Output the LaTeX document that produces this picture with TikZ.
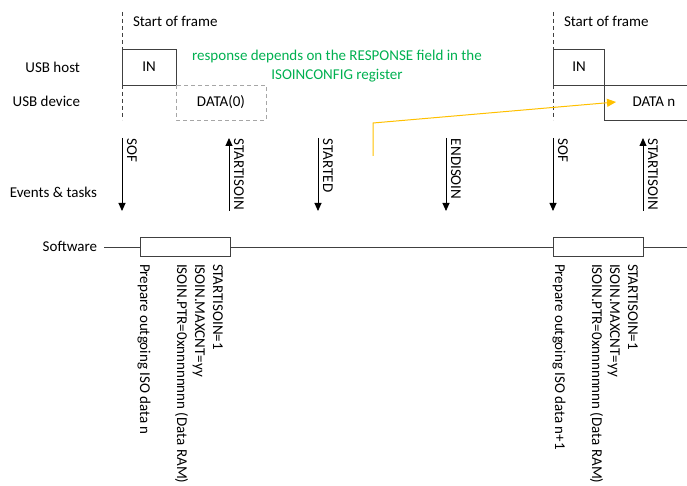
\documentclass[tikz,border=0pt]{standalone}
\usepackage{fontspec}
\setmainfont{Carlito}
\usetikzlibrary{arrows.meta}
\definecolor{linegray}{HTML}{404040}
\definecolor{dashgray}{HTML}{A6A6A6}
\definecolor{notegreen}{HTML}{00B050}
\definecolor{arroworange}{HTML}{FFC000}
\begin{document}
\begin{tikzpicture}[x=1pt,y=-1pt,
  font=\fontsize{15}{18}\selectfont,
  every node/.style={inner sep=0pt, outer sep=0pt},
  sigline/.style={draw=linegray, line width=0.9pt},
  framedash/.style={draw=linegray, line width=0.9pt, dash pattern=on 4pt off 3pt},
  evarrow/.style={draw=black, line width=0.9pt, -{Triangle[length=8pt,width=7pt]}},
  rotlabel/.style={rotate=-90, anchor=base west},
  swbox/.style={draw=linegray, line width=0.9pt, fill=white},
  rowlabel/.style={anchor=east}]
\useasboundingbox (0,0) rectangle (687,486);

% frame markers
\coordinate (f1top) at (122,12);
\coordinate (f1a) at (122,49);
\coordinate (f1b) at (122,85);
\coordinate (f1bot) at (122,120);
\draw[framedash] (f1top) -- (f1a);
\draw[framedash] (f1b) -- (f1bot);
\node[anchor=west] (sof1txt) at (133,21) {Start of frame};

\coordinate (f2top) at (553,12);
\coordinate (f2a) at (553,49);
\coordinate (f2b) at (553,85);
\coordinate (f2bot) at (553,120);
\draw[framedash] (f2top) -- (f2a);
\draw[framedash] (f2b) -- (f2bot);
\node[anchor=west] (sof2txt) at (564,21) {Start of frame};

% row labels
\node[rowlabel] (lhost) at (80,67) {USB host};
\node[rowlabel] (ldev) at (80,101) {USB device};
\node[rowlabel] (levt) at (97,192) {Events \& tasks};
\node[rowlabel] (lsw) at (97,246) {Software};

% USB host / device frame 1
\draw[sigline] (f1b) -- (f1a) -- (176,49) -- (176,85) -- cycle;
\node (in1) at (149,67) {IN};
\draw[draw=dashgray, line width=0.9pt, dash pattern=on 4pt off 3pt] (176,85) rectangle (266,120);
\node (data0) at (221,102) {DATA(0)};

% frame 2
\draw[sigline] (f2b) -- (f2a) -- (604,49) -- (604,85);
\draw[sigline] (f2b) -- (687,85);
\node (in2) at (579,67) {IN};
\draw[sigline] (604,85) -- (604,120) -- (687,120);
\node (datan) at (654,102) {DATA n};

% green note
\node[text=notegreen, align=center] (note) at (337,66)
  {response depends on the RESPONSE field in the\\[1pt]ISOINCONFIG register};

% orange arrow
\coordinate (oa) at (373,156);
\coordinate (ob) at (373,123);
\coordinate (oc) at (616,102);
\draw[draw=arroworange, line width=1pt, -{Triangle[length=9pt,width=8pt]}] (oa) -- (ob) -- (oc);

% events & tasks
\coordinate (e1t) at (122,138); \coordinate (e1b) at (122,211);
\draw[evarrow] (e1t) -- (e1b);
\node[rotlabel] (e1l) at (127,139) {SOF};
\coordinate (e2t) at (229,138); \coordinate (e2b) at (229,211);
\draw[evarrow] (e2b) -- (e2t);
\node[rotlabel] (e2l) at (234,139) {STARTISOIN};
\coordinate (e3t) at (318,138); \coordinate (e3b) at (318,211);
\draw[evarrow] (e3t) -- (e3b);
\node[rotlabel] (e3l) at (323,139) {STARTED};
\coordinate (e4t) at (446,138); \coordinate (e4b) at (446,211);
\draw[evarrow] (e4t) -- (e4b);
\node[rotlabel] (e4l) at (451,139) {ENDISOIN};
\coordinate (e5t) at (553,138); \coordinate (e5b) at (553,211);
\draw[evarrow] (e5t) -- (e5b);
\node[rotlabel] (e5l) at (558,139) {SOF};
\coordinate (e6t) at (643,138); \coordinate (e6b) at (643,211);
\draw[evarrow] (e6b) -- (e6t);
\node[rotlabel] (e6l) at (648,139) {STARTISOIN};

% software line
\coordinate (swl) at (104,247);
\coordinate (swr) at (687,247);
\draw[sigline] (swl) -- (swr);
\draw[swbox] (140,237) rectangle (230,256);
\draw[swbox] (553,237) rectangle (643,256);

% software notes frame 1
\node[rotlabel] (n1a) at (213,264) {STARTISOIN=1};
\node[rotlabel] (n1b) at (195,264) {ISOIN.MAXCNT=yy};
\node[rotlabel] (n1c) at (177,264) {ISOIN.PTR=0xnnnnnnnn (Data RAM)};
\node[rotlabel] (n1d) at (140,264) {Prepare outgoing ISO data n};

% software notes frame 2
\node[rotlabel] (n2a) at (628,264) {STARTISOIN=1};
\node[rotlabel] (n2b) at (610,264) {ISOIN.MAXCNT=yy};
\node[rotlabel] (n2c) at (592,264) {ISOIN.PTR=0xnnnnnnnn (Data RAM)};
\node[rotlabel] (n2d) at (555,264) {Prepare outgoing ISO data n+1};
\end{tikzpicture}
\end{document}
